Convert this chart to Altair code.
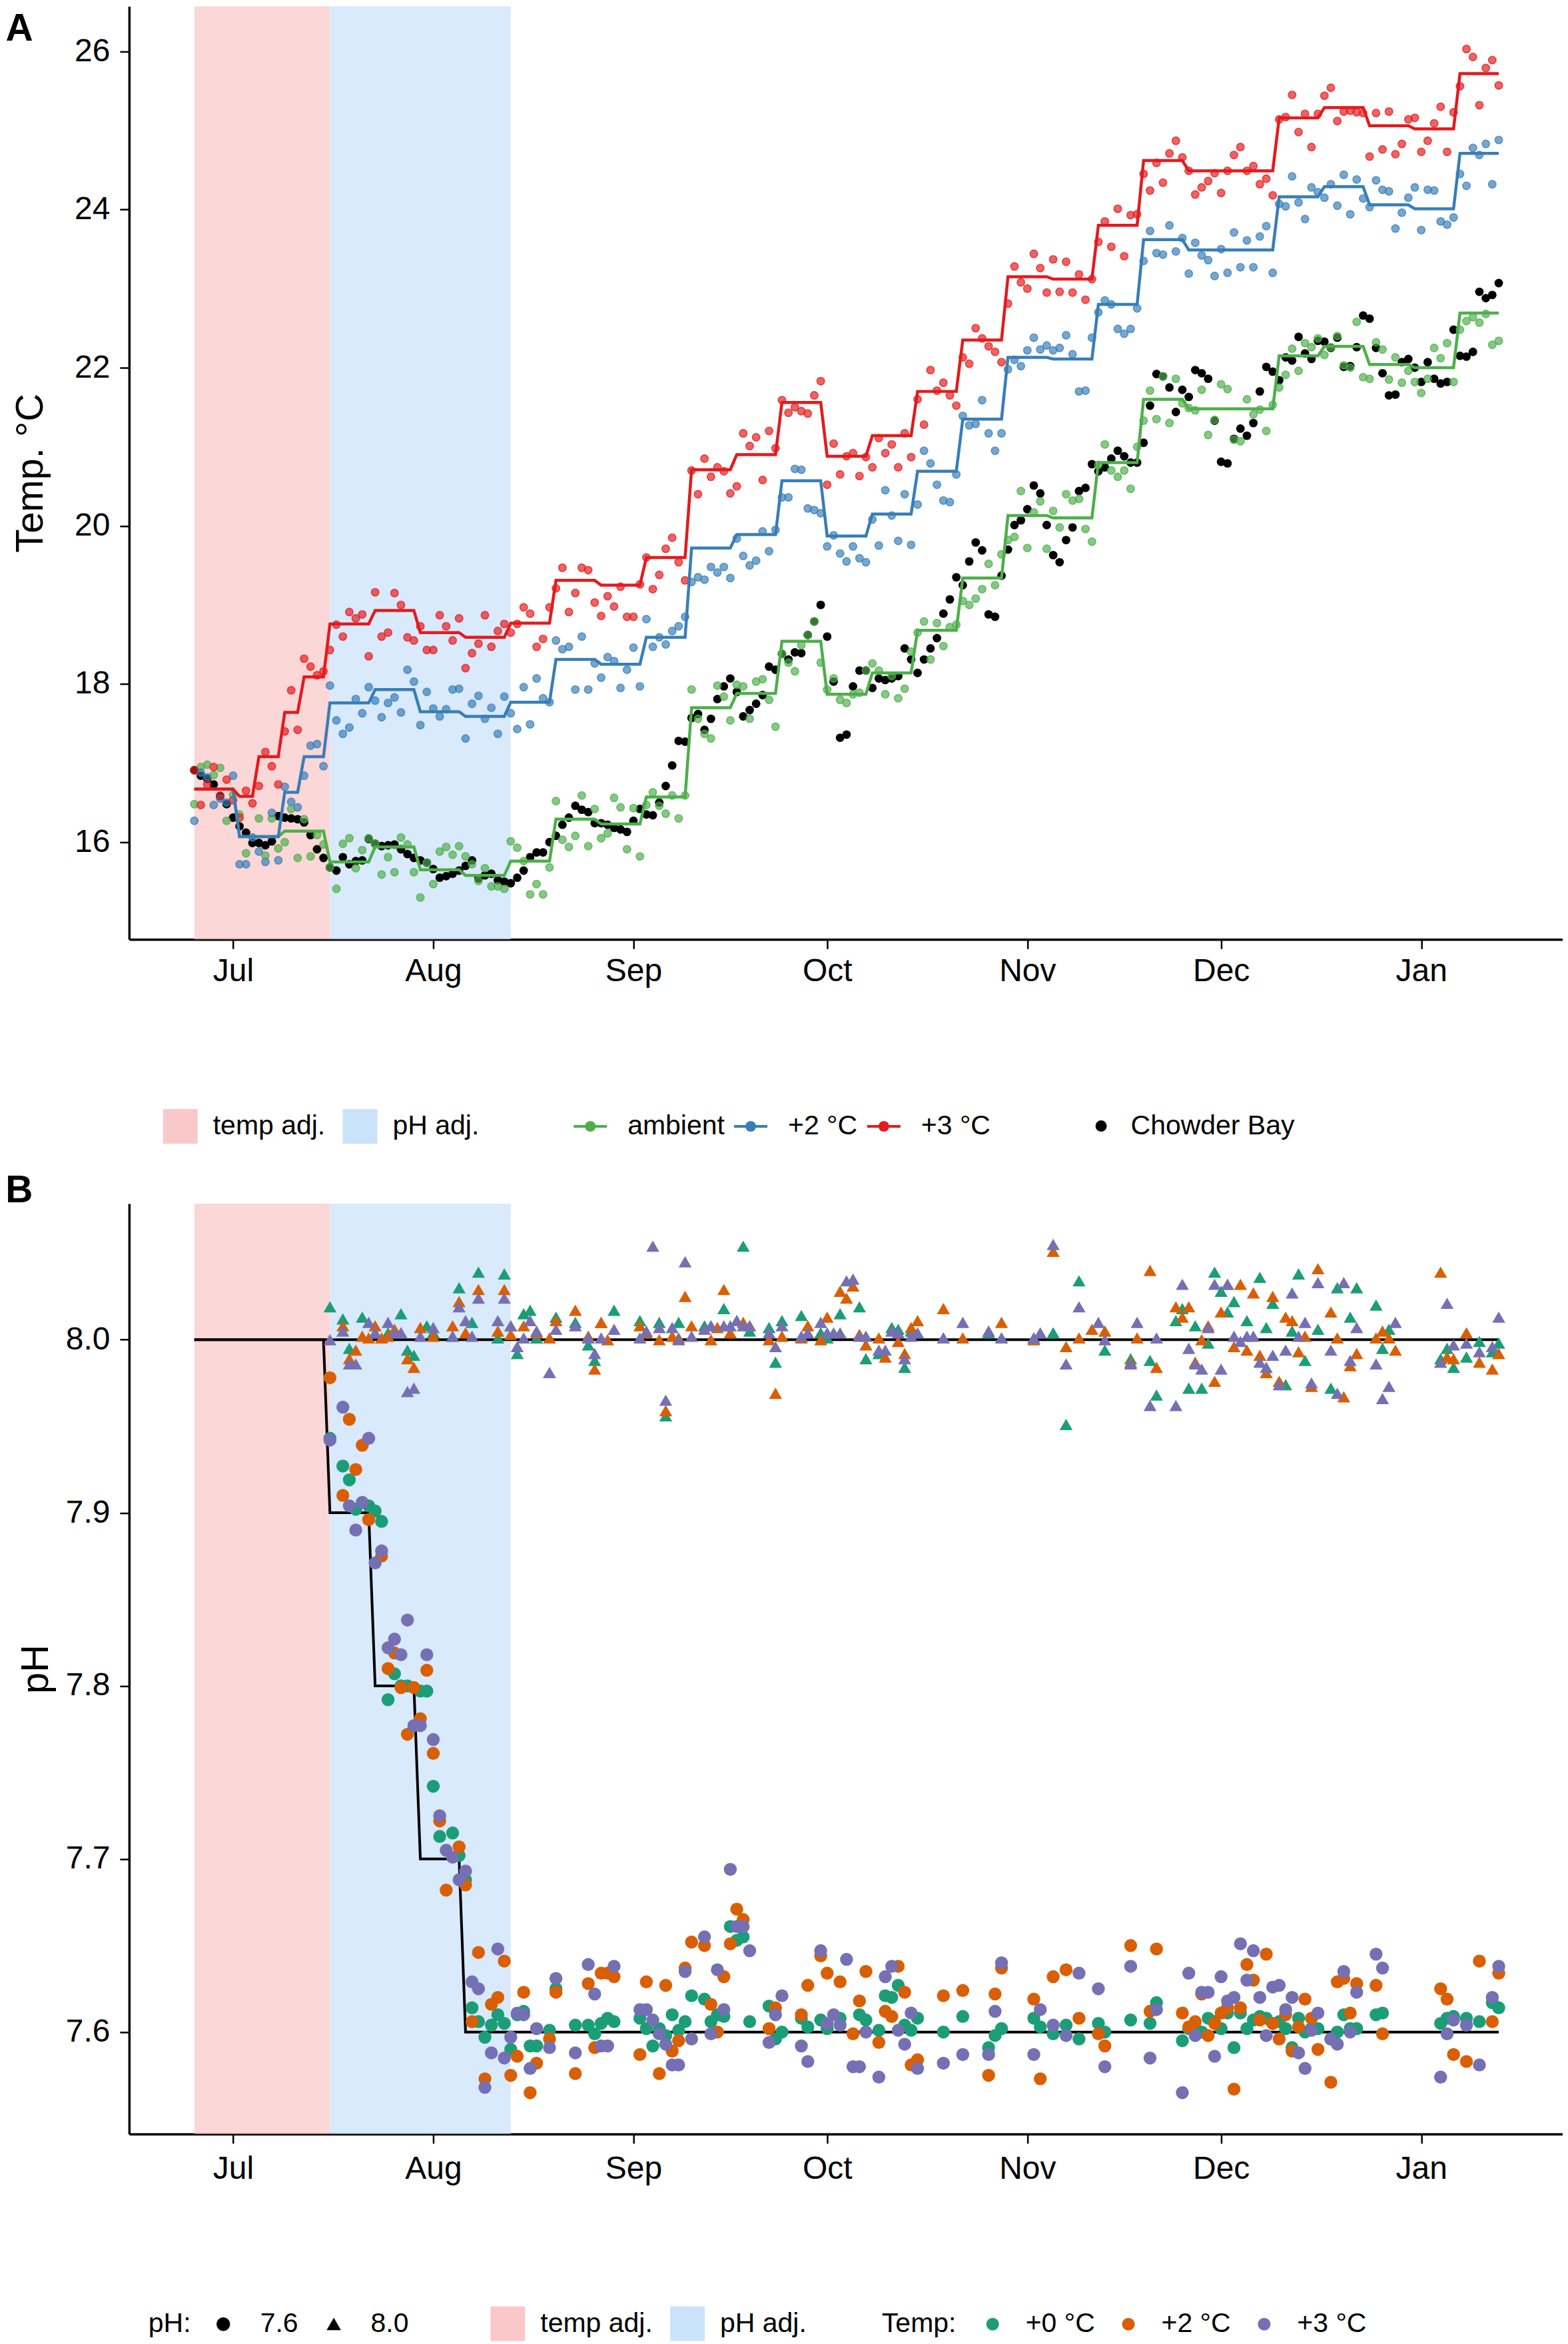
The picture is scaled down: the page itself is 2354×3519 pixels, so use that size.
import altair as alt
import pandas as pd

FONT = "Liberation Sans"
BASE_DATE = pd.Timestamp("2016-07-01")

# ---------------- Panel A data (daily, day -6 .. 196 relative to 1 Jul) ----------------
A_FIRST_DAY = -6
AMBIENT_PTS = [
    16.48, 16.95, 16.98, 16.85, 16.94, 16.27, 16.60, 16.35, 15.86, None,
    16.30, 15.83, 16.30, 15.92, 16.00, 16.42, 15.80, 16.29, 15.82, 16.09,
    15.97, 15.68, 15.41, 15.98, 16.05, 15.67, 15.90, 16.05, 15.98, 15.59,
    15.81, 15.62, 16.06, 15.97, 15.62, 15.30, 15.74, 15.47, 15.88, 15.94,
    15.84, 15.95, 15.82, 15.72, 15.51, 15.67, 15.44, 15.44, 15.41, 16.01,
    15.93, 15.76, 15.34, 15.47, 15.34, 15.68, 16.52, 16.03, 15.94, 16.08,
    16.59, 15.95, 16.42, 16.05, 16.11, 16.56, 16.44, 15.91, 16.43, 15.82,
    16.47, 16.63, 16.46, 16.36, 16.59, 16.30, 16.59, 17.93, 17.56, 17.37,
    17.31, 17.98, 17.84, 17.54, 17.99, 17.97, 17.56, 18.03, 18.06, 17.80,
    17.46, 18.38, 18.27, 18.16, 18.49, 18.62, 18.79, 18.27, 17.93, 18.07,
    17.80, 17.76, 17.87, 17.89, 18.17, 18.26, 18.17, 17.87, 18.10, 17.82,
    17.94, 18.41, 18.65, 18.79, 18.31, 18.77, 18.48, 18.72, 18.75, 19.05,
    19.00, 19.08, 19.20, 19.52, 19.25, 19.64, 19.82, 19.86, 20.44, 19.72,
    20.17, 20.31, 19.71, 20.19, 19.98, 20.40, 20.32, 20.34, 19.96, 19.80,
    20.77, 21.03, 20.70, 20.62, 20.70, 20.47, 21.00, 21.33, 21.71, 21.35,
    21.89, 21.30, 21.86, 21.55, 21.49, 21.46, 21.72, 21.15, 21.34, 21.79,
    21.73, 21.09, 21.07, 21.60, 21.41, 21.47, 21.20, 21.53, 21.75, 21.91,
    22.24, 21.96, 22.31, 22.26, 22.37, 22.16, 22.26, 22.40, 22.03, 22.00,
    22.58, 21.88, 21.86, 22.32, 22.23, 21.85, 22.13, 21.81, 21.96, 21.82,
    21.68, 21.86, 22.25, 22.12, 22.31, 21.82, 22.48, 22.59, 22.64, 22.57,
    22.68, 22.29, 22.34,
]
PLUS2_PTS = [
    16.27, 16.88, 16.82, 16.47, 16.55, 16.50, 16.84, 15.72, 15.72, 16.06,
    15.88, 15.75, 16.37, 15.77, 16.70, 16.51, 16.44, 16.84, 17.22, 17.24,
    16.96, 17.98, 17.54, 17.37, 17.45, 17.81, 17.63, 17.96, 17.79, 17.58,
    17.76, 17.83, 17.64, 18.18, 18.03, 17.48, 17.90, 17.69, 17.59, 17.68,
    17.93, 17.94, 17.31, 17.75, 17.85, 17.56, 17.70, 17.37, 17.84, 17.63,
    17.43, 17.96, 17.49, 18.07, 17.82, 17.77, 18.55, 18.44, 18.47, 17.93,
    18.60, 17.93, 18.26, 18.08, 18.34, 18.29, 17.95, 18.18, 18.46, 17.97,
    18.82, 18.47, 18.59, 18.50, 18.67, 18.73, 18.85, 19.29, 19.35, 19.32,
    19.48, 19.41, 19.48, 19.34, 19.84, 19.62, 19.50, 19.56, 19.93, 19.68,
    19.95, 20.36, 20.36, 20.72, 20.71, 20.22, 20.20, 20.16, 19.74, 19.88,
    19.65, 19.55, 19.74, 19.59, 19.54, 20.08, 19.75, 20.45, 20.13, 19.81,
    20.40, 19.76, 20.27, 20.95, 20.79, 20.52, 20.32, 20.30, 20.65, 21.39,
    21.27, 21.29, 21.59, 21.17, 20.95, 21.17, 21.98, 22.10, 22.02, 22.22,
    22.38, 22.23, 22.28, 22.22, 22.25, 22.41, 22.17, 21.70, 21.71, 22.38,
    22.70, 22.85, 22.80, 22.49, 22.43, 22.49, 22.75, 23.35, 23.73, 23.45,
    23.43, 23.80, 23.47, 23.64, 23.19, 23.58, 23.42, 23.36, 23.16, 23.50,
    23.20, 23.71, 23.27, 23.61, 23.27, 23.66, 23.79, 23.20, 24.07, 24.04,
    24.42, 24.09, 23.88, 24.28, 24.22, 24.15, 24.32, 24.05, 24.44, 23.94,
    24.38, 24.14, 24.03, 24.37, 24.25, 24.23, 23.76, 23.96, 24.15, 24.28,
    23.74, 24.25, 24.24, 23.85, 23.81, 23.90, 24.45, 24.30, 24.78, 24.69,
    24.83, 24.32, 24.88,
]
PLUS3_PTS = [
    16.91, 16.47, 16.73, 16.95, 16.59, 16.79, 16.53, 16.31, 16.65, 16.49,
    16.71, 17.14, 16.96, 16.73, 17.40, 17.92, 17.42, 18.32, 18.22, 18.11,
    18.16, 18.43, 18.75, 18.60, 18.91, 18.83, 18.88, 18.35, 19.16, 18.60,
    18.65, 19.15, 19.00, 18.59, 18.55, 18.73, 18.43, 18.43, 18.87, 18.73,
    18.55, 18.83, 18.20, 18.39, 18.51, 18.87, 18.47, 18.67, 18.76, 18.65,
    18.76, 18.97, 18.89, 18.47, 18.57, 18.97, 19.21, 19.47, 18.91, 19.15,
    19.47, 19.44, 19.03, 18.86, 19.11, 18.98, 19.23, 18.85, 18.85, 19.26,
    19.60, 19.20, 19.38, 19.71, 19.85, 19.54, 19.31, 20.70, 20.40, 20.85,
    20.62, 20.74, 20.69, 20.41, 20.50, 21.17, 21.01, 21.12, 20.58, 21.20,
    20.98, 21.59, 21.43, 21.50, 21.45, 21.42, 21.65, 21.83, 20.52, 21.04,
    20.65, 20.88, 20.92, 20.63, 20.87, 20.74, 21.11, 20.92, 21.03, 20.74,
    21.17, 20.87, 21.60, 21.28, 21.97, 21.71, 21.81, 21.65, 21.52, 22.13,
    22.05, 22.50, 22.37, 22.27, 22.20, 22.07, 22.81, 23.28, 23.08, 23.00,
    23.44, 23.26, 22.95, 23.37, 22.96, 23.34, 22.95, 23.18, 22.86, 23.12,
    23.59, 23.85, 23.53, 24.01, 23.41, 23.93, 23.94, 24.45, 24.24, 24.59,
    24.34, 24.71, 24.87, 24.66, 24.49, 24.19, 24.28, 24.36, 24.46, 24.21,
    24.49, 24.69, 24.79, 24.49, 24.55, 24.32, 24.39, 24.18, 25.14, 25.17,
    25.45, 24.98, 25.21, 24.79, 25.21, 25.44, 25.54, 25.12, 25.24, 25.25,
    25.23, 25.22, 24.67, 25.22, 24.76, 25.24, 24.70, 24.83, 25.14, 25.16,
    24.73, 24.87, 25.09, 25.30, 24.73, 25.23, 25.56, 26.03, 25.93, 25.32,
    25.79, 25.89, 25.57,
]
CHOWDER_PTS = [
    16.91, 16.84, 16.80, 16.73, 16.58, 16.48, 16.31, 16.20, 16.12, 15.99,
    15.99, 15.96, 16.01, 16.33, 16.31, 16.30, 16.29, 16.25, 16.09, 15.91,
    15.80, 15.68, 15.64, 15.81, 15.72, 15.76, 15.77, 16.04, 15.98, 15.95,
    15.96, 15.97, 15.91, 15.85, 15.80, 15.77, 15.74, 15.66, 15.55, 15.57,
    15.60, 15.64, 15.70, 15.77, 15.54, 15.58, 15.60, 15.52, 15.50, 15.48,
    15.55, 15.64, 15.81, 15.87, 15.87, 16.00, 16.08, 16.22, 16.31, 16.46,
    16.41, 16.38, 16.24, 16.24, 16.22, 16.18, 16.16, 16.13, 16.27, 16.42,
    16.35, 16.34, 16.50, 16.71, 16.97, 17.28, 17.27, 17.57, 17.62, 17.42,
    17.56, 17.81, 17.97, 18.07, 17.90, 17.59, 17.67, 17.75, 17.86, 18.22,
    18.18, 18.38, 18.31, 18.40, 18.39, 18.62, 18.79, 19.00, 18.60, 18.03,
    17.32, 17.36, 17.97, 18.17, 18.17, 17.95, 18.07, 18.05, 18.07, 18.10,
    18.45, 18.31, 18.14, 18.31, 18.45, 18.58, 18.89, 19.07, 19.35, 19.25,
    19.55, 19.79, 19.69, 18.88, 18.85, 19.37, 19.70, 20.01, 20.07, 20.21,
    20.51, 20.41, 20.01, 19.63, 19.54, 19.82, 19.98, 20.44, 20.48, 20.78,
    20.69, 20.74, 20.85, 20.95, 20.88, 20.80, 20.80, 21.05, 21.52, 21.92,
    21.89, 21.75, 21.44, 21.72, 21.63, 21.97, 21.93, 21.86, 21.33, 20.81,
    20.79, 21.10, 21.23, 21.14, 21.30, 21.70, 22.01, 21.95, 21.84, 22.13,
    22.09, 22.39, 22.18, 22.11, 22.34, 22.33, 22.25, 22.38, 22.01, 22.02,
    22.26, 22.66, 22.62, 22.25, 21.93, 21.65, 21.66, 22.07, 22.11, 22.00,
    21.82, 22.07, 21.86, 21.80, 21.82, 22.48, 22.15, 22.14, 22.20, 22.96,
    22.88, 22.92, 23.07,
]

# weekly set-points (step start day and level) for the three treatments
STEP_END_DAY = 196
AMB_STEP_START = [-6, 1, 8, 15, 22, 29, 36, 43, 50, 57, 64, 71, 78, 85, 92, 99, 106, 113,
                  120, 127, 134, 141, 148, 155, 162, 169, 176, 183, 190]
AMB_STEP_LEVEL = [16.67, 16.07, 16.14, 15.75, 15.94, 15.65, 15.58, 15.76, 16.29, 16.23,
                  16.57, 17.70, 17.88, 18.54, 17.87, 18.14, 18.68, 19.34, 20.13, 20.10,
                  20.80, 21.60, 21.48, 21.48, 22.15, 22.27, 22.04, 22.00, 22.69]
P2_STEP_START = [-6, 1, 8, 11, 15, 22, 29, 36, 43, 50, 57, 64, 71, 78, 85, 92, 99, 106, 113,
                 120, 127, 134, 141, 148, 155, 162, 169, 176, 183, 190]
P2_STEP_LEVEL = [16.67, 16.07, 16.63, 17.08, 17.76, 17.93, 17.65, 17.59, 17.77, 18.31,
                 18.25, 18.59, 19.72, 19.89, 20.57, 19.87, 20.15, 20.69, 21.35, 22.13,
                 22.11, 22.80, 23.62, 23.49, 23.49, 24.16, 24.29, 24.06, 24.01, 24.71]
P3_STEP_START = [-6, 1, 4, 8, 11, 15, 22, 29, 36, 43, 50, 57, 64, 71, 78, 85, 92, 99, 106,
                 113, 120, 127, 134, 141, 148, 155, 162, 169, 176, 183, 190]
P3_STEP_LEVEL = [16.67, 16.58, 17.08, 17.64, 18.09, 18.76, 18.93, 18.65, 18.59, 18.77,
                 19.31, 19.25, 19.60, 20.71, 20.90, 21.56, 20.88, 21.14, 21.70, 22.35,
                 23.15, 23.12, 23.80, 24.62, 24.49, 24.49, 25.16, 25.29, 25.06, 25.02, 25.72]

TRT_A = ["ambient", "+2 °C", "+3 °C"]
TRT_A_COLORS = ["#4DAF4A", "#377EB8", "#E41A1C"]

PHASES = ["temp adj.", "pH adj."]
PHASE_START = [-6, 15]
PHASE_END = [15, 43]
PHASE_COLORS = ["#FBC8C9", "#CBE2FB"]

# ---------------- Panel B data ----------------
PH_TARGET_HIGH_START = [-6]
PH_TARGET_HIGH_LEVEL = [8.0]
PH_TARGET_LOW_START = [-6, 15, 22, 29, 36]
PH_TARGET_LOW_LEVEL = [8.0, 7.9, 7.8, 7.7, 7.6]

TEMP_B = ["+0 °C", "+2 °C", "+3 °C"]
TEMP_B_COLORS = ["#1B9E77", "#D95F02", "#7570B3"]

LOW_P0 = [(15,7.943),(17,7.927),(18,7.919),(19,7.902),(21,7.904),(22,7.901),(23,7.895),(24,7.792),
    (25,7.807),(26,7.800),(27,7.800),(29,7.797),(30,7.797),(31,7.742),(32,7.713),(34,7.715),(35,7.702),
    (36,7.688),(37,7.614),(38,7.606),(39,7.597),(40,7.604),(41,7.610),(42,7.605),(43,7.590),(44,7.610),
    (45,7.612),(46,7.592),(47,7.592),(49,7.601),(50,7.625),(53,7.604),(55,7.604),(56,7.599),(57,7.605),
    (58,7.608),(59,7.606),(63,7.608),(64,7.602),(65,7.592),(66,7.602),(67,7.598),(68,7.610),(69,7.601),
    (70,7.606),(71,7.621),(73,7.619),(74,7.606),(75,7.610),(76,7.609),(77,7.661),(78,7.653),(79,7.655),
    (80,7.606),(83,7.615),(84,7.596),(85,7.600),(88,7.608),(89,7.603),(91,7.607),(92,7.602),(94,7.608),
    (97,7.610),(98,7.607),(100,7.601),(101,7.621),(102,7.620),(103,7.627),(104,7.604),(105,7.601),
    (106,7.608),(110,7.600),(113,7.609),(117,7.591),(118,7.598),(119,7.602),(124,7.608),(125,7.603),
    (127,7.599),(129,7.604),(131,7.596),(134,7.605),(135,7.600),(139,7.607),(142,7.605),(143,7.617),
    (147,7.595),(148,7.602),(149,7.602),(150,7.600),(151,7.608),(152,7.606),(153,7.602),(154,7.611),
    (155,7.591),(156,7.611),(157,7.602),(158,7.607),(159,7.609),(160,7.608),(161,7.605),(162,7.606),
    (163,7.602),(164,7.591),(165,7.608),(166,7.600),(167,7.602),(168,7.602),(170,7.596),(171,7.600),
    (172,7.610),(173,7.602),(174,7.602),(177,7.610),(178,7.611),(187,7.605),(188,7.608),(189,7.609),
    (191,7.608),(193,7.606),(195,7.617),(196,7.614)]
LOW_P2 = [(15,7.978),(17,7.910),(18,7.954),(19,7.925),(20,7.939),(21,7.896),(23,7.875),(24,7.810),
    (25,7.819),(26,7.799),(27,7.772),(28,7.799),(29,7.781),(30,7.809),(31,7.761),(32,7.722),(33,7.682),
    (35,7.707),(36,7.685),(37,7.606),(38,7.646),(39,7.573),(40,7.616),(41,7.620),(42,7.641),(43,7.575),
    (44,7.586),(45,7.623),(46,7.565),(47,7.582),(49,7.596),(50,7.623),(53,7.576),(55,7.628),(56,7.591),
    (57,7.634),(58,7.634),(59,7.632),(63,7.587),(64,7.629),(66,7.576),(67,7.627),(68,7.589),(69,7.595),
    (70,7.637),(71,7.652),(73,7.650),(74,7.616),(75,7.600),(76,7.632),(77,7.651),(78,7.671),(79,7.665),
    (83,7.602),(84,7.614),(88,7.610),(89,7.627),(91,7.644),(92,7.634),(94,7.629),(96,7.599),(97,7.618),
    (98,7.635),(100,7.594),(101,7.612),(102,7.609),(103,7.638),(104,7.623),(105,7.581),(106,7.584),
    (110,7.621),(113,7.624),(117,7.575),(118,7.622),(119,7.637),(124,7.619),(125,7.573),(127,7.632),
    (129,7.636),(131,7.608),(134,7.599),(135,7.592),(139,7.650),(142,7.612),(143,7.648),(147,7.611),
    (148,7.603),(149,7.606),(150,7.622),(151,7.598),(152,7.605),(153,7.611),(154,7.614),(155,7.567),
    (156,7.614),(157,7.639),(158,7.630),(159,7.607),(160,7.645),(161,7.605),(162,7.596),(163,7.610),
    (164,7.589),(165,7.603),(166,7.619),(167,7.608),(168,7.590),(170,7.571),(171,7.629),(172,7.631),
    (173,7.611),(174,7.628),(177,7.627),(178,7.599),(187,7.625),(188,7.619),(189,7.587),(191,7.583),
    (193,7.641),(195,7.606),(196,7.634)]
LOW_P3 = [(15,7.942),(17,7.961),(18,7.904),(19,7.890),(20,7.906),(21,7.943),(22,7.871),(23,7.878),
    (24,7.822),(25,7.827),(26,7.818),(27,7.838),(28,7.777),(29,7.777),(30,7.818),(31,7.769),(32,7.725),
    (33,7.705),(34,7.701),(35,7.688),(36,7.693),(37,7.629),(38,7.625),(39,7.568),(40,7.588),(41,7.648),
    (42,7.585),(43,7.597),(44,7.611),(45,7.610),(46,7.579),(47,7.602),(49,7.591),(50,7.631),(53,7.588),
    (55,7.639),(56,7.622),(57,7.592),(58,7.592),(59,7.638),(63,7.613),(64,7.613),(65,7.607),(66,7.599),
    (67,7.593),(68,7.581),(69,7.581),(70,7.635),(71,7.596),(73,7.655),(74,7.599),(75,7.636),(76,7.613),
    (77,7.694),(78,7.661),(79,7.661),(80,7.647),(83,7.594),(84,7.610),(85,7.621),(88,7.592),(89,7.583),
    (91,7.647),(92,7.605),(93,7.610),(94,7.604),(95,7.642),(96,7.580),(97,7.580),(98,7.600),(100,7.574),
    (101,7.632),(102,7.638),(103,7.601),(104,7.593),(105,7.611),(106,7.579),(110,7.582),(113,7.587),
    (117,7.587),(118,7.612),(119,7.640),(124,7.587),(125,7.613),(127,7.604),(129,7.598),(131,7.634),
    (134,7.625),(135,7.580),(139,7.638),(142,7.585),(143,7.613),(147,7.565),(148,7.634),(149,7.598),
    (150,7.623),(151,7.623),(152,7.586),(153,7.632),(154,7.618),(155,7.620),(156,7.651),(157,7.630),
    (158,7.647),(159,7.620),(160,7.598),(161,7.626),(162,7.627),(163,7.613),(164,7.620),(165,7.588),
    (166,7.579),(167,7.601),(168,7.611),(170,7.596),(171,7.593),(172,7.635),(173,7.600),(174,7.623),
    (177,7.645),(178,7.637),(187,7.574),(188,7.599),(189,7.607),(191,7.604),(193,7.581),(195,7.620),
    (196,7.638)]
HIGH_P0 = [(15,8.019),(17,8.012),(18,7.995),(20,8.013),(22,8.004),(24,8.004),(26,8.015),(27,7.994),
    (28,7.991),(30,8.008),(31,8.004),(34,8.002),(35,8.030),(37,8.010),(38,8.039),(41,8.001),(42,8.038),
    (43,8.008),(44,7.992),(45,8.015),(46,8.017),(47,8.001),(49,7.981),(50,8.013),(53,8.010),(55,7.997),
    (56,7.988),(57,8.010),(59,8.017),(63,8.011),(66,8.010),(67,7.956),(69,8.010),(73,8.008),(74,8.008),
    (76,8.018),(78,8.011),(79,8.054),(80,8.005),(83,8.007),(84,7.987),(85,8.011),(88,8.014),(91,8.004),
    (92,8.001),(94,8.015),(97,8.019),(98,7.989),(100,7.992),(102,8.007),(103,8.006),(104,7.984),
    (105,8.005),(110,8.001),(117,8.004),(119,8.001),(124,8.001),(127,8.004),(129,7.951),(131,8.034),
    (135,7.994),(139,7.989),(142,7.988),(143,7.968),(146,8.011),(147,8.018),(148,7.972),(149,8.008),
    (150,7.972),(151,7.998),(152,8.039),(153,8.028),(154,8.016),(155,8.022),(157,8.011),(159,8.036),
    (160,8.007),(161,8.021),(163,7.974),(164,8.005),(165,8.038),(166,7.988),(168,8.006),(170,7.972),
    (171,8.030),(173,8.013),(174,8.030),(177,8.020),(178,7.995),(179,8.006),(187,7.989),(188,7.995),
    (189,7.984),(191,7.990),(193,7.999),(195,7.993),(196,7.998)]
HIGH_P2 = [(17,8.008),(18,7.989),(19,7.994),(20,8.002),(21,8.001),(22,8.008),(23,8.001),(24,8.002),
    (25,8.006),(26,8.004),(27,7.989),(28,7.984),(29,8.007),(31,8.002),(34,8.008),(35,8.022),(36,8.004),
    (38,8.029),(41,8.005),(42,8.029),(43,8.003),(45,8.008),(47,8.004),(49,8.001),(50,8.011),(53,8.017),
    (55,8.002),(56,7.983),(57,8.010),(58,8.000),(63,8.008),(64,8.004),(66,8.000),(67,7.959),(68,8.002),
    (69,8.001),(70,8.025),(71,8.008),(74,8.000),(75,8.007),(76,8.029),(77,8.004),(79,8.010),(80,8.008),
    (83,8.000),(84,7.969),(85,8.002),(88,8.001),(89,8.008),(91,8.000),(92,8.013),(94,8.028),(95,8.024),
    (96,8.031),(97,8.003),(98,7.997),(100,8.001),(101,7.990),(103,7.999),(104,7.992),(105,8.007),
    (106,8.011),(110,8.018),(113,8.001),(119,8.010),(124,8.000),(127,8.051),(129,7.996),(131,8.001),
    (133,8.006),(135,8.005),(139,7.987),(140,8.001),(142,8.040),(143,7.984),(146,8.019),(147,8.013),
    (148,8.019),(149,7.987),(150,8.000),(151,8.008),(152,7.976),(153,8.016),(154,8.032),(155,7.996),
    (156,8.032),(157,7.994),(158,8.027),(159,7.991),(160,7.981),(161,8.025),(162,7.976),(163,8.013),
    (164,8.011),(165,7.993),(166,8.002),(167,7.973),(168,8.041),(170,8.016),(171,8.001),(172,7.967),
    (173,7.985),(174,7.992),(177,8.001),(178,8.005),(179,8.001),(180,7.994),(187,8.039),(188,7.990),
    (189,7.989),(191,8.004),(193,7.987),(195,7.983),(196,7.992)]
HIGH_P3 = [(15,8.000),(17,8.005),(18,7.986),(19,7.986),(21,8.010),(22,8.004),(24,8.010),(25,8.004),
    (26,8.004),(27,7.970),(28,7.972),(29,8.002),(31,8.007),(34,8.002),(35,8.019),(36,8.011),(37,8.002),
    (38,8.024),(41,8.011),(42,8.024),(43,8.008),(44,7.996),(45,8.001),(46,8.011),(47,8.005),(49,7.981),
    (50,8.006),(53,8.008),(55,8.001),(56,7.992),(57,8.001),(59,8.006),(63,8.001),(64,8.005),(65,8.054),
    (66,8.007),(67,7.965),(68,8.007),(69,8.000),(70,8.045),(71,8.002),(73,8.006),(74,8.008),(76,8.008),
    (77,8.008),(78,8.011),(79,8.008),(80,8.008),(83,8.004),(84,7.996),(85,8.008),(88,8.002),(89,8.004),
    (91,8.010),(92,8.004),(93,8.004),(94,8.004),(95,8.034),(96,8.035),(97,8.002),(98,8.002),(100,7.994),
    (101,7.994),(102,8.005),(103,8.004),(104,7.989),(105,8.002),(106,8.004),(110,8.001),(113,8.010),
    (117,8.005),(119,8.001),(124,8.001),(125,8.004),(127,8.055),(129,7.986),(131,8.019),(134,8.010),
    (135,8.000),(139,7.986),(140,8.010),(142,7.962),(143,8.001),(146,7.962),(147,8.032),(148,7.995),
    (149,7.986),(150,7.983),(151,8.007),(152,8.032),(153,7.983),(154,8.032),(155,8.002),(156,7.999),
    (157,8.002),(158,8.002),(159,7.987),(160,7.984),(161,7.991),(162,7.974),(163,7.994),(164,8.027),
    (165,8.002),(166,8.010),(167,7.975),(168,8.033),(170,7.994),(171,7.969),(172,8.033),(173,7.988),
    (174,8.007),(177,7.986),(178,7.966),(179,7.973),(180,8.010),(187,7.987),(188,8.021),(189,7.997),
    (191,7.998),(193,7.993),(195,7.996),(196,8.013)]


# ---------------- helpers ----------------
def iso(day):
    return (BASE_DATE + pd.Timedelta(days=day)).strftime("%Y-%m-%dT%H:%M:%S")


def step_rows(starts, levels, end, label):
    rows = []
    for i, (s, lv) in enumerate(zip(starts, levels)):
        e = starts[i + 1] - 1 if i + 1 < len(starts) else end
        rows.append({"date": iso(s), "value": lv, "series": label})
        rows.append({"date": iso(e), "value": lv, "series": label})
    return rows


def daily_rows(values, label):
    return [{"date": iso(A_FIRST_DAY + i), "value": v, "series": label}
            for i, v in enumerate(values) if v is not None]


phase_df = pd.DataFrame({"phase": PHASES,
                         "start": [iso(d) for d in PHASE_START],
                         "end": [iso(d) for d in PHASE_END]})

pts_a = pd.DataFrame(daily_rows(AMBIENT_PTS, TRT_A[0]) + daily_rows(PLUS2_PTS, TRT_A[1])
                     + daily_rows(PLUS3_PTS, TRT_A[2]))
cb_df = pd.DataFrame(daily_rows(CHOWDER_PTS, "Chowder Bay"))
lines_a = pd.DataFrame(step_rows(AMB_STEP_START, AMB_STEP_LEVEL, STEP_END_DAY, TRT_A[0])
                       + step_rows(P2_STEP_START, P2_STEP_LEVEL, STEP_END_DAY, TRT_A[1])
                       + step_rows(P3_STEP_START, P3_STEP_LEVEL, STEP_END_DAY, TRT_A[2]))

lines_b = pd.DataFrame(step_rows(PH_TARGET_HIGH_START, PH_TARGET_HIGH_LEVEL, STEP_END_DAY, "8.0")
                       + step_rows(PH_TARGET_LOW_START, PH_TARGET_LOW_LEVEL, STEP_END_DAY, "7.6"))

rows_b = []
for ph, groups in (("7.6", (LOW_P0, LOW_P2, LOW_P3)), ("8.0", (HIGH_P0, HIGH_P2, HIGH_P3))):
    for temp, grp in zip(TEMP_B, groups):
        for d, v in grp:
            rows_b.append({"date": iso(d), "value": v, "temp": temp, "ph": ph})
pts_b = pd.DataFrame(rows_b)


def dt(day_float):
    t = BASE_DATE + pd.Timedelta(days=day_float)
    return alt.DateTime(year=t.year, month=t.month, date=t.day, hours=t.hour, minutes=t.minute)


X_DOMAIN = [dt(-16.1), dt(205.9)]
MONTH_TICKS = [alt.DateTime(year=2016, month=m, date=1) for m in range(7, 13)] + \
              [alt.DateTime(year=2017, month=1, date=1)]

W = 2154
HA = 1402
HB = 1398

AX = dict(labelFont=FONT, titleFont=FONT, labelColor="black", titleColor="black",
          domainColor="black", tickColor="black", domainWidth=3.5, tickWidth=2.5,
          tickSize=14, grid=False, titleFontWeight="normal")


def x_enc(field="date", pad=10):
    return alt.X(f"{field}:T", scale=alt.Scale(domain=X_DOMAIN),
                 axis=alt.Axis(values=MONTH_TICKS, format="%b", title=None, labelFontSize=48,
                               labelPadding=pad, **AX))


LINE_KEY = ("M-1,-0.08L1,-0.08L1,0.08L-1,0.08Z "
            "M0.32,0A0.32,0.32 0 1 1 -0.32,0A0.32,0.32 0 1 1 0.32,0Z")

LEG = dict(orient="none", direction="horizontal", padding=0, labelFont=FONT, labelFontSize=41,
           labelColor="black", labelLimit=1000, titleFont=FONT, titleFontSize=41,
           titleColor="black", titleFontWeight="normal", symbolOpacity=1)


def phase_layer(legend_x, legend_y, pad):
    return alt.Chart(phase_df).mark_rect(opacity=0.72).encode(
        x=x_enc("start", pad), x2="end:T",
        fill=alt.Fill("phase:N", scale=alt.Scale(domain=PHASES, range=PHASE_COLORS),
                      legend=alt.Legend(title=None, legendX=legend_x, legendY=legend_y,
                                        symbolType="square", symbolSize=2704,
                                        symbolStrokeWidth=0, labelOffset=23,
                                        columnPadding=26, **LEG)))


# ---------------- Panel A ----------------
PAD_A = 10
ya = alt.Y("value:Q", scale=alt.Scale(domain=[14.77, 26.57], nice=False, zero=False),
           axis=alt.Axis(values=[16, 18, 20, 22, 24, 26], title="Temp.  °C", labelFontSize=48,
                         titleFontSize=58, labelPadding=15, titlePadding=36, **AX))

trt_scale = alt.Scale(domain=TRT_A, range=TRT_A_COLORS)

cb_layer = alt.Chart(cb_df).mark_point(filled=True, size=165, opacity=1, color="black").encode(
    x=x_enc(pad=PAD_A), y=ya,
    shape=alt.Shape("series:N", scale=alt.Scale(domain=["Chowder Bay"], range=["circle"]),
                    legend=alt.Legend(title=None, legendX=1440, legendY=1662, symbolSize=289,
                                      symbolFillColor="black", symbolStrokeColor="black",
                                      labelOffset=24, **LEG)))

pts_fill = alt.Chart(pts_a).mark_circle(size=130, opacity=0.68).encode(
    x=x_enc(pad=PAD_A), y=ya,
    color=alt.Color("series:N", scale=trt_scale,
                    legend=alt.Legend(title=None, legendX=668, legendY=1658, symbolType=LINE_KEY,
                                      symbolSize=2500, symbolStrokeWidth=0, labelOffset=31,
                                      columnPadding=14, **LEG)))

pts_ring = alt.Chart(pts_a).mark_point(size=130, filled=False, strokeWidth=1.6, opacity=0.75).encode(
    x=x_enc(pad=PAD_A), y=ya,
    stroke=alt.Stroke("series:N", scale=trt_scale, legend=None))

line_a = alt.Chart(lines_a).mark_line(strokeWidth=4.5).encode(
    x=x_enc(pad=PAD_A), y=ya,
    stroke=alt.Stroke("series:N", scale=trt_scale, legend=None),
    detail="series:N")

panel_a = alt.layer(phase_layer(51, 1657, PAD_A), cb_layer, pts_fill, pts_ring, line_a).properties(
    width=W, height=HA,
    title=alt.TitleParams("A", anchor="start", frame="bounds", fontSize=57, fontWeight="bold",
                          font=FONT, color="black", offset=-47, dx=-9, dy=62,
                          baseline="alphabetic"))

# ---------------- Panel B ----------------
PAD_B = 15
yb = alt.Y("value:Q", scale=alt.Scale(domain=[7.5411, 8.0786], nice=False, zero=False),
           axis=alt.Axis(values=[7.6, 7.7, 7.8, 7.9, 8.0], format=".1f", title="pH",
                         labelFontSize=48, titleFontSize=58, labelPadding=15, titlePadding=15,
                         **AX))

line_b = alt.Chart(lines_b).mark_line(color="black", strokeWidth=4).encode(
    x=x_enc(pad=PAD_B), y=yb, detail="series:N")

pts_b_layer = alt.Chart(pts_b).mark_point(filled=True, size=380, opacity=1).encode(
    x=x_enc(pad=PAD_B), y=yb,
    color=alt.Color("temp:N", scale=alt.Scale(domain=TEMP_B, range=TEMP_B_COLORS),
                    legend=alt.Legend(title="Temp:", titleOrient="left", titlePadding=34,
                                      legendX=1131, legendY=1663, symbolType="circle",
                                      symbolSize=361, labelOffset=29, columnPadding=29, **LEG)),
    shape=alt.Shape("ph:N", scale=alt.Scale(domain=["7.6", "8.0"], range=["circle", "triangle-up"]),
                    legend=alt.Legend(title="pH:", titleOrient="left", titlePadding=28,
                                      legendX=29, legendY=1663, symbolSize=361,
                                      symbolFillColor="black", symbolStrokeColor="black",
                                      labelOffset=35, columnPadding=33, **LEG)))

panel_b = alt.layer(phase_layer(543, 1657, PAD_B), line_b, pts_b_layer).properties(
    width=W, height=HB,
    title=alt.TitleParams("B", anchor="start", frame="bounds", fontSize=57, fontWeight="bold",
                          font=FONT, color="black", offset=4, dx=-17, dy=59,
                          baseline="alphabetic"))

chart = alt.vconcat(panel_a, panel_b, spacing=42).resolve_scale(
    color="independent", fill="independent", shape="independent", stroke="independent",
    x="independent", y="independent"
).resolve_legend(
    color="independent", fill="independent", shape="independent", stroke="independent"
).properties(
    padding={"left": 0, "top": 0, "right": 0, "bottom": 0}, background="white"
).configure_view(stroke=None)

chart.save("out.html", embed_options={"renderer": "svg", "actions": False})
